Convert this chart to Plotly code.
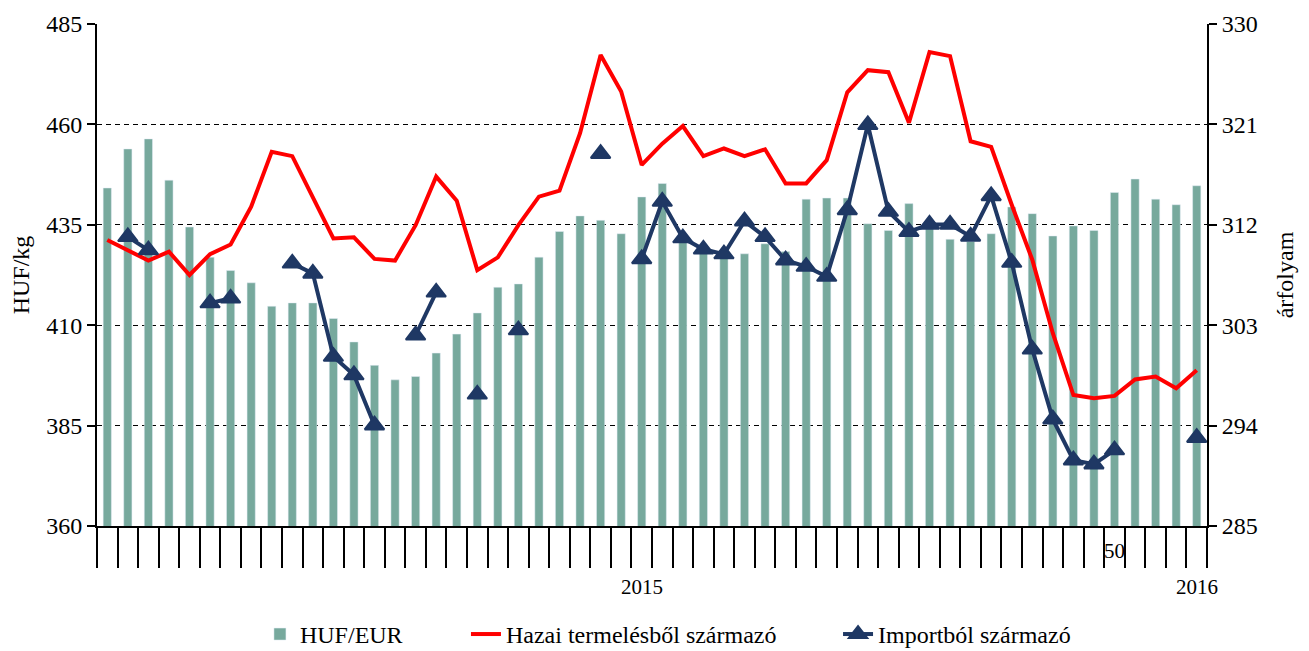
import plotly.graph_objects as go

# ---- data ----
years = ["2015"] * 53 + ["2016"]
weeks = [str(w) for w in range(1, 54)] + ["1"]

huf_eur = [315.3, 318.8, 319.7, 316.0, 311.8, 309.1, 307.9, 306.8, 304.7, 305.0,
           305.0, 303.6, 301.5, 299.4, 298.1, 298.4, 300.5, 302.2, 304.1, 306.4,
           306.7, 309.1, 311.4, 312.8, 312.4, 311.2, 314.5, 315.7, 310.5, 310.0,
           309.5, 309.4, 310.3, 309.6, 314.3, 314.4, 314.4, 312.1, 311.5, 313.9,
           311.9, 310.7, 310.5, 311.2, 313.6, 313.0, 311.0, 311.9, 311.5, 314.9,
           316.1, 314.3, 313.8, 315.5]

hazai = [431.2, 428.7, 426.1, 428.3, 422.5, 427.7, 430.1, 439.5, 453.2, 452.1,
         442.0, 431.6, 431.9, 426.5, 426.1, 434.9, 447.0, 441.0, 423.7, 426.9,
         434.9, 442.0, 443.5, 457.8, 477.3, 468.2, 449.9, 455.2, 459.6, 452.1,
         454.0, 452.1, 453.8, 445.3, 445.3, 451.1, 468.0, 473.5, 473.0, 460.4,
         478.0, 477.0, 455.8, 454.4, 440.0, 426.3, 408.0, 392.6, 391.8, 392.4,
         396.5, 397.2, 394.3, 398.8]

import_ = [None, 432.0, 428.7, None, None, 415.5, 416.7, None, None, 425.4,
           422.9, 402.2, 397.6, 385.1, None, 407.5, 418.2, None, 392.8, None,
           408.8, None, None, None, 452.7, None, 426.5, 440.8, 431.7, 428.9,
           427.7, 435.9, 432.0, 426.2, 424.6, 422.1, 438.7, 459.9, 438.3, 433.3,
           435.1, 435.1, 432.1, 442.2, 425.6, 404.0, 386.6, 376.4, 375.4, 378.9,
           None, None, None, 382.0]

left_ticks = [360, 385, 410, 435, 460, 485]
right_ticks = [285, 294, 303, 312, 321, 330]

# ---- positions through the category axis ----
n = len(weeks)
xpos = list(range(1, n + 1))
boundaries = [i + 0.5 for i in range(0, n + 1)]
year_bounds = [0.5]
for i in range(1, n):
    if years[i] != years[i - 1]:
        year_bounds.append(i + 0.5)
year_bounds.append(n + 0.5)

FONT = "Liberation Serif, Times New Roman, serif"
BAR = "#77A99D"
RED = "#FF0000"
NAVY = "#1F3864"

fig = go.Figure()
fig.add_trace(go.Bar(x=xpos, y=huf_eur, name="HUF/EUR", marker_color=BAR,
                     width=0.4, yaxis="y", xaxis="x", legend="legend"))
fig.add_trace(go.Scatter(x=xpos, y=hazai, name="Hazai termelésből származó",
                         mode="lines", line=dict(color=RED, width=4),
                         yaxis="y2", xaxis="x", legend="legend2"))
fig.add_trace(go.Scatter(x=xpos, y=import_, name="Importból származó",
                         mode="lines+markers", connectgaps=False,
                         line=dict(color=NAVY, width=4),
                         marker=dict(symbol="triangle-up", size=17, color=NAVY,
                                     line=dict(color=NAVY, width=2)),
                         yaxis="y2", xaxis="x", legend="legend3"))

# category / group labels
annotations = []
for y in sorted(set(years)):
    idx = [i + 1 for i, v in enumerate(years) if v == y]
    annotations.append(dict(x=(idx[0] + idx[-1]) / 2, y=-0.122, xref="x", yref="paper",
                            text=y, showarrow=False, yanchor="middle",
                            font=dict(family=FONT, size=21, color="black")))
for i, w in enumerate(weeks):
    if w == "50":
        annotations.append(dict(x=i + 1, y=-0.05, xref="x", yref="paper", text=w,
                                showarrow=False, yanchor="middle",
                                font=dict(family=FONT, size=21, color="black")))

leg_common = dict(orientation="h", y=-0.216, yanchor="middle", xanchor="left",
                  font=dict(family=FONT, size=24, color="black"),
                  bgcolor="rgba(0,0,0,0)")

fig.update_layout(
    width=1293, height=643,
    margin=dict(l=89, r=94, t=16, b=125, autoexpand=False),
    plot_bgcolor="white", paper_bgcolor="white",
    font=dict(family=FONT, size=24, color="black"),
    bargap=0.6,
    showlegend=True,
    legend=dict(x=0.1468, **leg_common),
    legend2=dict(x=0.3324, **leg_common),
    legend3=dict(x=0.6676, **leg_common),
    xaxis=dict(range=[0.5, n + 0.5], showgrid=False, zeroline=False, automargin=False,
               showline=True, linecolor="black", linewidth=2,
               tickmode="array", tickvals=year_bounds, ticktext=[""] * len(year_bounds),
               ticks="outside", ticklen=78, tickwidth=2, tickcolor="black",
               minor=dict(tickmode="array", tickvals=boundaries, ticks="outside",
                          ticklen=40, tickwidth=2, tickcolor="black", showgrid=False)),
    yaxis=dict(range=[285, 330], tickvals=right_ticks, side="right", automargin=False,
               showgrid=True, gridcolor="black", gridwidth=1, griddash="5px,4px",
               zeroline=False, showline=True, linecolor="black", linewidth=2,
               ticks="outside", ticklen=8, tickwidth=2, tickcolor="black",
               tickfont=dict(family=FONT, size=24),
               title=dict(text="árfolyam", standoff=19, font=dict(family=FONT, size=24))),
    yaxis2=dict(range=[360, 485], tickvals=left_ticks, side="left", overlaying="y",
                automargin=False,
                showgrid=False, zeroline=False, showline=True, linecolor="black",
                linewidth=2, ticks="outside", ticklen=8, tickwidth=2, tickcolor="black",
                tickfont=dict(family=FONT, size=24),
                title=dict(text="HUF/kg", standoff=13, font=dict(family=FONT, size=24))),
    annotations=annotations,
)

fig.write_html("out.html")
